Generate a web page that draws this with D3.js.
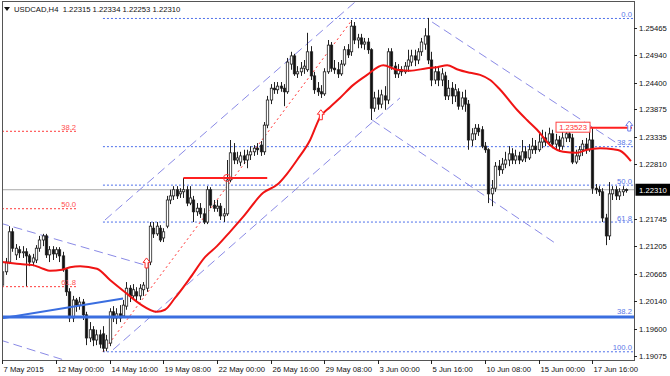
<!DOCTYPE html>
<html>
<head>
<meta charset="utf-8">
<script src="https://cdn.jsdelivr.net/npm/d3@7"></script>
<style>
    body { margin: 0; background: #fff; }
    svg { display: block; font-family: "Liberation Sans", Arial, sans-serif; }
</style>
</head>
<body>
<svg id="chart" width="670" height="376"></svg>
<script>
const symbol = "USDCAD,H4";
const lastQuote = [1.22315, 1.22334, 1.22253, 1.22310];

// H4 bars: [open, high, low, close]
const candles = [
    [1.2045,1.2082,1.2036,1.2071],[1.2071,1.2098,1.2065,1.2090],[1.2090,1.2160,1.2086,1.2149],[1.2149,1.2156,1.2110,1.2117],
    [1.2104,1.2125,1.2094,1.2117],[1.2114,1.2121,1.2098,1.2108],[1.2108,1.2121,1.2098,1.2110],[1.2110,1.2117,1.2043,1.2102],
    [1.2102,1.2106,1.2082,1.2090],[1.2090,1.2106,1.2082,1.2098],[1.2094,1.2123,1.2088,1.2117],[1.2117,1.2141,1.2110,1.2133],
    [1.2133,1.2145,1.2121,1.2141],[1.2141,1.2145,1.2098,1.2104],[1.2104,1.2121,1.2090,1.2114],[1.2114,1.2121,1.2094,1.2106],
    [1.2106,1.2119,1.2098,1.2114],[1.2114,1.2119,1.2090,1.2102],[1.2102,1.2110,1.2071,1.2075],[1.2075,1.2078,1.2024,1.2032],
    [1.2032,1.2039,1.1973,1.1981],[1.1981,1.2024,1.1973,1.2016],[1.2016,1.2020,1.1993,1.2006],[1.2006,1.2022,1.1997,1.2012],
    [1.2012,1.2018,1.1977,1.1987],[1.1987,1.1993,1.1928,1.1942],[1.1942,1.1973,1.1934,1.1958],[1.1958,1.1965,1.1926,1.1938],
    [1.1938,1.1958,1.1928,1.1948],[1.1948,1.1958,1.1922,1.1930],[1.1950,1.1965,1.1915,1.1922],[1.1922,1.1948,1.1916,1.1938],
    [1.1932,1.2000,1.1926,1.1993],[1.1993,1.2004,1.1973,1.1981],[1.1981,1.2000,1.1969,1.1989],[1.1989,1.2006,1.1973,1.1981],
    [1.1985,1.2016,1.1981,1.2006],[1.2004,1.2051,1.1997,1.2039],[1.2039,1.2045,1.2012,1.2024],[1.2024,1.2047,1.2016,1.2036],
    [1.2032,1.2041,1.2012,1.2024],[1.2024,1.2047,1.2016,1.2039],[1.2036,1.2051,1.2024,1.2045],[1.2039,1.2094,1.2032,1.2090],
    [1.2090,1.2168,1.2084,1.2160],[1.2156,1.2168,1.2137,1.2145],[1.2145,1.2168,1.2141,1.2160],[1.2156,1.2162,1.2129,1.2133],
    [1.2137,1.2156,1.2129,1.2149],[1.2160,1.2219,1.2156,1.2211],[1.2211,1.2231,1.2203,1.2219],[1.2219,1.2238,1.2211,1.2231],
    [1.2231,1.2238,1.2213,1.2219],[1.2223,1.2234,1.2215,1.2227],[1.2227,1.2254,1.2215,1.2231],[1.2231,1.2238,1.2199,1.2205],
    [1.2205,1.2238,1.2201,1.2215],[1.2211,1.2219,1.2168,1.2188],[1.2188,1.2205,1.2180,1.2195],[1.2195,1.2205,1.2176,1.2184],
    [1.2184,1.2195,1.2164,1.2168],[1.2168,1.2238,1.2164,1.2231],[1.2231,1.2236,1.2195,1.2201],[1.2201,1.2211,1.2188,1.2195],
    [1.2195,1.2211,1.2188,1.2199],[1.2199,1.2205,1.2172,1.2180],[1.2180,1.2195,1.2168,1.2184],[1.2184,1.2289,1.2180,1.2250],
    [1.2250,1.2328,1.2246,1.2303],[1.2303,1.2322,1.2281,1.2289],[1.2289,1.2305,1.2281,1.2293],[1.2285,1.2305,1.2277,1.2297],
    [1.2297,1.2309,1.2281,1.2289],[1.2289,1.2309,1.2273,1.2299],[1.2299,1.2316,1.2289,1.2305],[1.2305,1.2318,1.2297,1.2312],
    [1.2312,1.2322,1.2299,1.2309],[1.2318,1.2326,1.2297,1.2305],[1.2305,1.2363,1.2299,1.2357],[1.2357,1.2414,1.2351,1.2406],
    [1.2406,1.2437,1.2398,1.2429],[1.2429,1.2441,1.2418,1.2426],[1.2426,1.2441,1.2418,1.2433],[1.2433,1.2441,1.2422,1.2429],
    [1.2429,1.2437,1.2394,1.2422],[1.2422,1.2488,1.2418,1.2480],[1.2476,1.2500,1.2465,1.2492],[1.2492,1.2496,1.2453,1.2457],
    [1.2457,1.2472,1.2449,1.2461],[1.2461,1.2480,1.2453,1.2468],[1.2468,1.2484,1.2457,1.2472],[1.2465,1.2537,1.2461,1.2500],
    [1.2500,1.2511,1.2445,1.2453],[1.2453,1.2461,1.2418,1.2426],[1.2429,1.2441,1.2414,1.2422],[1.2422,1.2435,1.2410,1.2418],
    [1.2418,1.2468,1.2414,1.2461],[1.2461,1.2523,1.2457,1.2513],[1.2513,1.2519,1.2461,1.2468],[1.2468,1.2484,1.2457,1.2465],
    [1.2465,1.2480,1.2449,1.2457],[1.2457,1.2484,1.2453,1.2476],[1.2476,1.2511,1.2472,1.2504],[1.2504,1.2515,1.2488,1.2494],
    [1.2500,1.2562,1.2492,1.2550],[1.2550,1.2558,1.2515,1.2523],[1.2523,1.2535,1.2507,1.2527],[1.2527,1.2535,1.2507,1.2515],
    [1.2515,1.2527,1.2504,1.2519],[1.2519,1.2527,1.2496,1.2504],[1.2504,1.2507,1.2367,1.2390],[1.2390,1.2422,1.2383,1.2410],
    [1.2410,1.2426,1.2387,1.2398],[1.2398,1.2426,1.2390,1.2416],[1.2414,1.2433,1.2387,1.2406],[1.2406,1.2507,1.2398,1.2500],
    [1.2500,1.2507,1.2465,1.2472],[1.2472,1.2480,1.2449,1.2457],[1.2457,1.2476,1.2449,1.2465],[1.2465,1.2472,1.2453,1.2461],
    [1.2461,1.2480,1.2457,1.2472],[1.2472,1.2504,1.2461,1.2484],[1.2480,1.2504,1.2472,1.2492],[1.2492,1.2504,1.2472,1.2484],
    [1.2484,1.2507,1.2476,1.2500],[1.2500,1.2527,1.2492,1.2519],[1.2515,1.2546,1.2504,1.2531],[1.2531,1.2566,1.2476,1.2484],
    [1.2484,1.2500,1.2433,1.2445],[1.2445,1.2472,1.2437,1.2461],[1.2461,1.2472,1.2433,1.2445],[1.2445,1.2468,1.2433,1.2457],
    [1.2453,1.2461,1.2406,1.2414],[1.2414,1.2445,1.2406,1.2429],[1.2429,1.2441,1.2398,1.2414],[1.2414,1.2437,1.2402,1.2426],
    [1.2422,1.2429,1.2387,1.2394],[1.2394,1.2422,1.2387,1.2410],[1.2410,1.2426,1.2383,1.2398],[1.2398,1.2406,1.2309,1.2328],
    [1.2328,1.2351,1.2316,1.2340],[1.2340,1.2359,1.2328,1.2351],[1.2351,1.2359,1.2336,1.2344],[1.2348,1.2355,1.2312,1.2316],
    [1.2316,1.2324,1.2303,1.2309],[1.2309,1.2312,1.2205,1.2223],[1.2223,1.2250,1.2199,1.2234],[1.2234,1.2285,1.2227,1.2277],
    [1.2277,1.2289,1.2258,1.2270],[1.2270,1.2293,1.2262,1.2281],[1.2281,1.2305,1.2273,1.2289],[1.2289,1.2316,1.2277,1.2301],
    [1.2301,1.2312,1.2281,1.2289],[1.2289,1.2309,1.2281,1.2297],[1.2297,1.2305,1.2281,1.2289],[1.2289,1.2328,1.2285,1.2305],
    [1.2305,1.2316,1.2285,1.2293],[1.2293,1.2320,1.2289,1.2309],[1.2309,1.2332,1.2301,1.2316],[1.2316,1.2328,1.2301,1.2309],
    [1.2309,1.2340,1.2305,1.2324],[1.2324,1.2348,1.2312,1.2332],[1.2332,1.2344,1.2316,1.2324],[1.2324,1.2352,1.2316,1.2340],
    [1.2340,1.2348,1.2312,1.2320],[1.2320,1.2340,1.2309,1.2328],[1.2328,1.2336,1.2305,1.2316],[1.2316,1.2348,1.2309,1.2332],
    [1.2332,1.2351,1.2324,1.2340],[1.2340,1.2351,1.2324,1.2332],[1.2332,1.2340,1.2281,1.2285],[1.2285,1.2309,1.2281,1.2297],
    [1.2297,1.2316,1.2289,1.2309],[1.2309,1.2328,1.2297,1.2320],[1.2320,1.2332,1.2301,1.2309],[1.2309,1.2351,1.2305,1.2328],
    [1.2328,1.2351,1.2223,1.2234],[1.2234,1.2242,1.2223,1.2231],[1.2231,1.2238,1.2219,1.2227],[1.2227,1.2234,1.2168,1.2176],
    [1.2176,1.2184,1.2123,1.2141],[1.2141,1.2246,1.2133,1.2223],[1.2223,1.2238,1.2211,1.2231],[1.2231,1.2238,1.2211,1.2219],
    [1.2219,1.2234,1.2211,1.2227],[1.2227,1.2238,1.2219,1.2231],[1.22315,1.22334,1.22253,1.22310]
];

// moving average, [bar index, price]
const maPoints = [
    [0,1.2090],[5.3,1.2086],[9.1,1.2084],[12.1,1.2077],[14.2,1.2073],[17.8,1.2075],[20.2,1.2080],[23.2,1.2082],
    [28.2,1.2077],[32.1,1.2055],[37.2,1.2028],[41.1,1.2008],[46.1,1.1993],[48.5,1.1997],[51.5,1.2020],[56,1.2059],
    [60.5,1.2100],[64,1.2121],[67.9,1.2149],[71.8,1.2178],[77.8,1.2225],[82.2,1.2242],[84.9,1.2262],[87.9,1.2289],
    [91.8,1.2328],[94.8,1.2373],[97.7,1.2392],[100.7,1.2410],[104.6,1.2435],[108.8,1.2455],[113.6,1.2474],[117.7,1.2465],
    [121.6,1.2463],[126.7,1.2468],[129.7,1.2470],[132.7,1.2474],[135.6,1.2466],[139.5,1.2459],[142.5,1.2455],[145.5,1.2445],
    [148.5,1.2426],[153.5,1.2387],[156.5,1.2367],[159.5,1.2348],[163.4,1.2318],[167.3,1.2305],[171.4,1.2303],[174.4,1.2309],
    [178.3,1.2312],[182.2,1.2310],[184.3,1.2307],[187.5,1.2287]
];

const priceTicks = [1.25465, 1.24940, 1.24400, 1.23875, 1.23335, 1.22810, 1.21745, 1.21205, 1.20665, 1.20140, 1.19600, 1.19075];
const timeLabels = ["7 May 2015", "12 May 00:00", "14 May 16:00", "19 May 08:00", "22 May 00:00", "26 May 16:00",
    "29 May 08:00", "3 Jun 00:00", "5 Jun 16:00", "10 Jun 08:00", "15 Jun 00:00", "17 Jun 16:00"];
const barsPerLabel = 16;

// fibonacci retracement (blue) drawn from the low bar to the right edge
const fibStartBar = 30;
const fibLabels = ["0.0", "38.2", "50.0", "61.8", "100.0"];
const fibPrices = [1.2565, 1.2315, 1.2240, 1.2168, 1.1915];

// older fibonacci (red), left part only
const redFibLabels = ["38.2", "50.0", "61.8"];
const redFibPrices = [1.2345, 1.2194, 1.2042];
const redFibEndBar = 22;

// thick blue support level
const supportLabel = "38.2";
const supportPrice = 1.1983;

// trend lines: [bar1, price1, bar2, price2]
const channelLines = [
    [-0.7, 1.2166, 42.6, 1.2084],
    [-0.7, 1.1938, 18.4, 1.1899],
    [30.6, 1.2172, 105.2, 1.2597],
    [33, 1.1919, 118.6, 1.2410],
    [128.2, 1.2558, 182.8, 1.2324],
    [110.3, 1.2367, 164.9, 1.2127]
];
const redDotted = [30, 1.1915, 104.3, 1.2562];
const blueTrend = [-0.7, 1.1980, 36, 1.2019];

// horizontal red lines: [bar1, bar2, price]
const redLevel = [54, 79, 1.2254];
const redCircleBar = 67;
const topLevel = [175.3, 187.8, 1.2352];
const topLevelText = "1.23523";

// hollow up arrows: [bar, price at tip, colour]
const arrows = [[43, 1.2098, "#ff2a2a"], [95, 1.2387, "#ff2a2a"], [187, 1.2365, "#6f7fe8"]];

const svg = d3.select("#chart");
const plot = { left: 2, top: 1, right: 634, bottom: 360 };
const fs = "7.7px";

const x = d3.scaleLinear().domain([0, candles.length - 1]).range([2.4, 625.9]);
const y = d3.scaleLinear().domain([1.2601, 1.18678]).range([0, 376]);

svg.append("rect").attr("width", 670).attr("height", 376).attr("fill", "#fff");

svg.append("clipPath").attr("id", "clip")
    .append("rect")
    .attr("x", plot.left).attr("y", plot.top)
    .attr("width", plot.right - plot.left).attr("height", plot.bottom - plot.top);

const g = svg.append("g").attr("clip-path", "url(#clip)");
const last = lastQuote[3];

// current bid line
g.append("line")
    .attr("x1", plot.left).attr("x2", plot.right)
    .attr("y1", y(last)).attr("y2", y(last))
    .attr("stroke", "#a8a8a8").attr("stroke-width", 1);

// blue fibonacci levels
g.selectAll(".fib").data(fibPrices).enter().append("line")
    .attr("x1", x(fibStartBar)).attr("x2", plot.right)
    .attr("y1", d => y(d)).attr("y2", d => y(d))
    .attr("stroke", "#4e70ea").attr("stroke-width", 1).attr("stroke-dasharray", "2,2");

// red fibonacci levels
g.selectAll(".rfib").data(redFibPrices).enter().append("line")
    .attr("x1", plot.left).attr("x2", x(redFibEndBar))
    .attr("y1", d => y(d)).attr("y2", d => y(d))
    .attr("stroke", "#ff3a3a").attr("stroke-width", 1).attr("stroke-dasharray", "2,2");

// channel lines
g.selectAll(".chan").data(channelLines).enter().append("line")
    .attr("x1", d => x(d[0])).attr("y1", d => y(d[1]))
    .attr("x2", d => x(d[2])).attr("y2", d => y(d[3]))
    .attr("stroke", "#8a8ae6").attr("stroke-width", 1).attr("stroke-dasharray", "9,5");

g.append("line")
    .attr("x1", x(redDotted[0])).attr("y1", y(redDotted[1]))
    .attr("x2", x(redDotted[2])).attr("y2", y(redDotted[3]))
    .attr("stroke", "#ff3030").attr("stroke-width", 1).attr("stroke-dasharray", "2,3");

// candles
const bw = 2.4;
const bars = g.append("g");
candles.forEach((d, i) => {
    const [o, h, l, c] = d;
    const cx = Math.round(x(i)) + 0.5;
    bars.append("line")
        .attr("x1", cx).attr("x2", cx)
        .attr("y1", y(h)).attr("y2", y(l))
        .attr("stroke", "#222").attr("stroke-width", 1);
    const top = y(Math.max(o, c));
    const hgt = Math.max(1, Math.abs(y(o) - y(c)));
    bars.append("rect")
        .attr("x", cx - bw / 2).attr("y", top)
        .attr("width", bw).attr("height", hgt)
        .attr("fill", c >= o ? "#fff" : "#111")
        .attr("stroke", "#222").attr("stroke-width", 0.8);
});

// moving average
g.append("path")
    .datum(maPoints)
    .attr("fill", "none")
    .attr("stroke", "#f01414")
    .attr("stroke-width", 2)
    .attr("d", d3.line().x(d => x(d[0])).y(d => y(d[1])).curve(d3.curveMonotoneX));

// support line and trend line
g.append("line")
    .attr("x1", plot.left).attr("x2", plot.right)
    .attr("y1", y(supportPrice)).attr("y2", y(supportPrice))
    .attr("stroke", "#3a6ee0").attr("stroke-width", 3);

g.append("line")
    .attr("x1", x(blueTrend[0])).attr("y1", y(blueTrend[1]))
    .attr("x2", x(blueTrend[2])).attr("y2", y(blueTrend[3]))
    .attr("stroke", "#3a6ee0").attr("stroke-width", 2);

// red horizontal levels
g.append("line")
    .attr("x1", x(redLevel[0])).attr("x2", x(redLevel[1]))
    .attr("y1", y(redLevel[2])).attr("y2", y(redLevel[2]))
    .attr("stroke", "#ff2020").attr("stroke-width", 2);

g.append("circle")
    .attr("cx", x(redCircleBar)).attr("cy", y(redLevel[2]))
    .attr("r", 3.5).attr("fill", "none")
    .attr("stroke", "#ff3030").attr("stroke-width", 1);

g.append("line")
    .attr("x1", x(topLevel[0])).attr("x2", x(topLevel[1]))
    .attr("y1", y(topLevel[2])).attr("y2", y(topLevel[2]))
    .attr("stroke", "#ff2020").attr("stroke-width", 2);

const boxW = 34;
g.append("rect")
    .attr("x", x(topLevel[0]) - boxW).attr("y", y(topLevel[2]) - 5.5)
    .attr("width", boxW).attr("height", 10)
    .attr("fill", "#fff").attr("stroke", "#ff4040").attr("stroke-width", 1);
g.append("text")
    .attr("x", x(topLevel[0]) - boxW / 2).attr("y", y(topLevel[2]) + 2.7)
    .attr("text-anchor", "middle")
    .style("font-size", fs).attr("fill", "#ff3030")
    .text(topLevelText);

// hollow arrows
arrows.forEach(a => {
    const ax = x(a[0]), ay = y(a[1]);
    g.append("path")
        .attr("d", `M${ax},${ay} l3.5,4.5 h-2 v5.5 h-3 v-5.5 h-2 Z`)
        .attr("fill", "#fff").attr("stroke", a[2]).attr("stroke-width", 1);
});

// level labels
fibPrices.forEach((p, k) => {
    g.append("text")
        .attr("x", 632).attr("y", y(p) - 1.5)
        .attr("text-anchor", "end")
        .style("font-size", fs).attr("fill", "#5a78e8")
        .text(fibLabels[k]);
});
redFibPrices.forEach((p, k) => {
    g.append("text")
        .attr("x", x(redFibEndBar)).attr("y", y(p) - 1.5)
        .attr("text-anchor", "end")
        .style("font-size", fs).attr("fill", "#ff5050")
        .text(redFibLabels[k]);
});
g.append("text")
    .attr("x", 632).attr("y", y(supportPrice) - 2.5)
    .attr("text-anchor", "end")
    .style("font-size", fs).attr("fill", "#5a78e8")
    .text(supportLabel);

// frame
svg.append("rect")
    .attr("x", plot.left + 0.5).attr("y", plot.top + 0.5)
    .attr("width", plot.right - plot.left).attr("height", plot.bottom - plot.top)
    .attr("fill", "none").attr("stroke", "#555").attr("stroke-width", 1);

// price axis
priceTicks.forEach(p => {
    const ty = Math.round(y(p)) + 0.5;
    svg.append("line")
        .attr("x1", plot.right).attr("x2", plot.right + 3)
        .attr("y1", ty).attr("y2", ty)
        .attr("stroke", "#222");
    svg.append("text")
        .attr("x", plot.right + 5).attr("y", ty + 2.8)
        .style("font-size", fs).attr("fill", "#111")
        .text(p.toFixed(5));
});

svg.append("rect")
    .attr("x", plot.right + 1.5).attr("y", y(last) - 6)
    .attr("width", 36).attr("height", 12)
    .attr("fill", "#000");
svg.append("text")
    .attr("x", plot.right + 5).attr("y", y(last) + 2.8)
    .style("font-size", fs).attr("fill", "#fff")
    .text(last.toFixed(5));

// time axis
timeLabels.forEach((t, k) => {
    const tx = Math.round(x(k * barsPerLabel)) + 0.5;
    svg.append("line")
        .attr("x1", tx).attr("x2", tx)
        .attr("y1", plot.bottom).attr("y2", plot.bottom + 4)
        .attr("stroke", "#222");
    svg.append("text")
        .attr("x", tx + 1).attr("y", plot.bottom + 12)
        .style("font-size", fs).attr("fill", "#111")
        .text(t);
});

// title
svg.append("path")
    .attr("d", "M4,7 h6 l-3,4 Z")
    .attr("fill", "#111");
svg.append("text")
    .attr("x", 14).attr("y", 12)
    .style("font-size", fs).attr("fill", "#111")
    .attr("xml:space", "preserve")
    .text(symbol + "  " + lastQuote.map(v => v.toFixed(5)).join(" "));
</script>
</body>
</html>
